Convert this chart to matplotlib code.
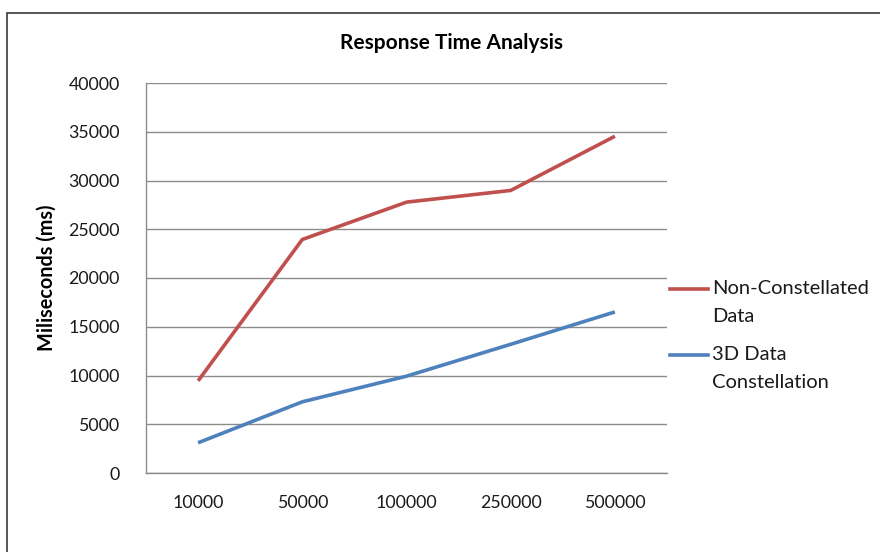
import matplotlib.pyplot as plt
from matplotlib.lines import Line2D
from matplotlib.patches import Rectangle

# record counts tested and response times (ms)
sizes = ["10000", "50000", "100000", "250000", "500000"]
non_constellated = [9450, 23950, 27780, 28980, 34540]
constellation_3d = [3100, 7300, 9930, 13200, 16520]
series_names = ["Non-Constellated\nData", "3D Data\nConstellation"]
series_colors = ["#C0504D", "#4F81BD"]

plt.rcParams['font.family'] = ['Lato', 'DejaVu Sans']

W, H = 880, 552
fig = plt.figure(figsize=(W / 100, H / 100), dpi=100)
fig.patch.set_facecolor("white")

# outer chart frame (runs off the right and bottom edge)
fig.add_artist(Rectangle((7 / W, -0.1), 1.1, 1 - 13 / H + 0.1, transform=fig.transFigure,
                         fill=False, edgecolor="#3a3a3a", lw=1.2))

left, right, top, bottom = 146, 667, 83, 473
ax = fig.add_axes([left / W, 1 - bottom / H, (right - left) / W, (bottom - top) / H])

x = list(range(len(sizes)))
for vals, c in zip([non_constellated, constellation_3d], series_colors):
    ax.plot(x, vals, color=c, lw=2.6, solid_capstyle="butt", zorder=3)

ax.set_xlim(-0.5, len(sizes) - 0.5)
ax.set_ylim(0, 40000)
ax.set_yticks(range(0, 40001, 5000))
ax.set_xticks(x)
ax.set_xticklabels(sizes)
ax.yaxis.grid(True, color="#8c8c8c", lw=1)
ax.set_axisbelow(True)
for s in ["top", "right"]:
    ax.spines[s].set_visible(False)
for s in ["left", "bottom"]:
    ax.spines[s].set_color("#8c8c8c")
    ax.spines[s].set_linewidth(1)
ax.tick_params(axis="both", length=0, labelsize=12.8, colors="#1a1a1a")
ax.tick_params(axis="y", pad=19)
ax.tick_params(axis="x", pad=16)

ax.set_ylabel("Miliseconds (ms)", fontsize=14.3, fontweight="bold", labelpad=8)
fig.text(451 / W, 1 - 43 / H, "Response Time Analysis", ha="center", va="center",
         fontsize=15, fontweight="bold")

# legend to the right of the plot, handle level with the first text line
legend_y = [289, 355]
for name, c, ly in zip(series_names, series_colors, legend_y):
    fig.add_artist(Line2D([670 / W, 708 / W], [1 - ly / H, 1 - ly / H],
                          transform=fig.transFigure, color=c, lw=2.6))
    fig.text(712 / W, 1 - (ly - 9) / H, name, ha="left", va="top",
             fontsize=14.5, linespacing=1.78, color="#1a1a1a")

fig.savefig("out.png", dpi=100)
